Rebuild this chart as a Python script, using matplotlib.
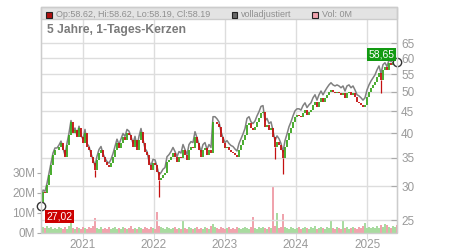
import matplotlib
matplotlib.use("Agg")
import matplotlib.pyplot as plt
import matplotlib.dates as mdates
from matplotlib.patches import Rectangle
from matplotlib.ticker import FixedLocator, FixedFormatter, NullLocator
import numpy as np
import pandas as pd

plt.rcParams['font.family'] = ['Liberation Sans', 'DejaVu Sans']

# ---------------- data (~every 10 days) ----------------
start_date = "2020-05-31"
end_date = "2025-06-03"

close = [
    27.0, 29.1, 28.9, 30.2, 31.9, 33.6, 35.5, 36.5, 36.5, 37.1,
    37.9, 36.5, 35.1, 37.5, 39.6, 42.4, 40.0, 40.7, 39.1, 41.1,
    39.1, 37.9, 40.0, 37.1, 36.5, 35.1, 34.0, 32.8, 34.6, 35.9,
    36.5, 35.1, 34.2, 33.6, 33.3, 34.0, 35.1, 36.5, 37.9, 36.9,
    37.9, 39.1, 38.5, 40.0, 39.6, 38.5, 37.1, 38.5, 36.5, 38.5,
    40.2, 37.9, 36.1, 35.5, 33.6, 32.8, 34.0, 33.6, 32.4, 31.0,
    31.4, 31.9, 32.2, 34.2, 34.6, 35.1, 35.9, 35.1, 34.2, 35.1,
    34.9, 36.5, 35.5, 34.6, 36.5, 37.1, 36.9, 39.1, 37.9, 36.5,
    35.1, 36.5, 36.9, 35.5, 36.5, 35.9, 42.4, 42.4, 41.9, 41.3,
    39.1, 37.9, 36.9, 37.1, 36.5, 36.1, 35.9, 35.5, 35.1, 36.5,
    37.5, 38.5, 39.6, 41.8, 42.2, 41.1, 40.7, 41.3, 42.4, 43.4,
    44.6, 44.8, 41.3, 41.8, 40.7, 41.1, 39.1, 37.1, 38.1, 37.5,
    36.5, 34.9, 37.1, 38.5, 40.0, 41.1, 42.4, 43.6, 44.1, 43.8,
    43.6, 44.6, 45.3, 44.1, 44.8, 45.3, 46.5, 47.3, 46.0, 47.3,
    48.3, 47.3, 48.3, 49.1, 49.9, 50.5, 49.9, 49.6, 49.9, 49.6,
    49.1, 49.6, 48.3, 49.6, 49.9, 49.1, 49.6, 48.6, 47.3, 47.0,
    46.5, 46.0, 46.5, 48.6, 49.9, 51.0, 51.8, 52.7, 54.1, 55.3,
    53.3, 56.2, 57.1, 56.2, 58.4, 57.8, 58.6, 58.6, 58.19,
]

adjusted = [
    27.3, 29.4, 29.2, 30.5, 32.2, 33.9, 35.9, 36.9, 36.9, 37.5,
    38.3, 36.9, 35.5, 37.9, 40.0, 42.8, 40.4, 41.1, 39.5, 41.5,
    39.5, 38.7, 40.8, 37.8, 37.2, 35.8, 34.7, 33.5, 35.3, 36.6,
    37.2, 35.8, 34.9, 34.3, 34.0, 34.7, 35.8, 37.2, 38.7, 37.6,
    38.7, 39.9, 39.3, 40.8, 40.4, 39.3, 37.8, 39.3, 37.2, 39.3,
    41.0, 38.7, 36.8, 36.2, 34.3, 33.5, 34.7, 34.6, 33.4, 31.9,
    32.3, 32.9, 33.2, 35.2, 35.6, 36.2, 37.0, 36.2, 35.2, 36.2,
    35.9, 37.6, 36.6, 35.6, 37.6, 38.2, 38.0, 40.3, 39.0, 37.6,
    36.2, 37.6, 38.0, 36.6, 37.6, 37.0, 43.7, 43.7, 43.2, 42.5,
    40.3, 39.0, 38.0, 38.4, 37.8, 37.4, 37.2, 36.7, 36.3, 37.8,
    38.8, 39.8, 41.0, 43.3, 43.7, 42.5, 42.1, 42.7, 43.9, 44.9,
    46.2, 46.4, 42.7, 43.3, 42.1, 42.5, 40.5, 38.4, 39.4, 38.8,
    37.8, 36.1, 38.4, 39.8, 41.4, 42.5, 43.9, 45.1, 45.6, 45.6,
    45.3, 46.4, 47.1, 45.9, 46.6, 47.1, 48.4, 49.2, 47.8, 49.2,
    50.2, 49.2, 50.2, 51.1, 51.9, 52.5, 51.9, 51.6, 51.9, 51.6,
    51.1, 51.6, 50.2, 51.6, 51.9, 51.1, 51.6, 50.5, 49.2, 48.9,
    48.4, 47.8, 48.4, 50.5, 51.9, 53.0, 53.9, 54.8, 56.3, 57.5,
    55.2, 57.9, 58.5, 57.3, 59.4, 58.8, 59.4, 59.2, 58.65,
]

volume_m = [
    4.0, 3.0, 2.5, 3.5, 2.5, 3.0, 2.0, 2.5, 2.0, 3.0,
    2.5, 2.0, 3.0, 2.0, 3.5, 7.5, 2.5, 2.0, 3.0, 2.5,
    2.0, 3.0, 2.5, 2.0, 3.0, 2.5, 3.5, 7.5, 2.5, 2.0,
    3.0, 2.0, 2.5, 2.0, 3.0, 2.0, 2.5, 3.0, 2.0, 2.5,
    2.0, 3.0, 2.5, 2.0, 2.5, 3.5, 2.0, 2.5, 2.0, 3.0,
    2.5, 2.0, 3.0, 2.5, 2.0, 3.0, 2.5, 2.0, 10.5, 3.5,
    3.0, 2.5, 2.0, 3.0, 2.5, 2.0, 2.5, 3.0, 2.0, 2.5,
    2.0, 6.5, 2.5, 2.0, 3.0, 2.5, 2.0, 2.5, 3.0, 2.0,
    2.5, 2.0, 3.0, 2.5, 2.0, 3.5, 4.5, 3.0, 2.5, 2.0,
    3.0, 2.5, 2.0, 2.5, 3.0, 2.0, 2.5, 2.0, 3.0, 2.5,
    2.0, 2.5, 3.0, 2.5, 2.0, 3.0, 8.0, 2.5, 2.0, 3.0,
    2.5, 3.0, 2.5, 2.0, 3.0, 2.5, 23.0, 3.5, 10.0, 2.5,
    3.0, 9.5, 3.0, 2.5, 2.0, 3.0, 2.5, 2.0, 2.5, 3.0,
    2.0, 2.5, 3.0, 2.5, 2.0, 3.0, 2.5, 3.5, 2.0, 2.5,
    3.0, 2.5, 2.0, 3.0, 2.5, 6.0, 2.5, 2.0, 3.0, 2.5,
    2.0, 6.0, 2.5, 3.0, 2.0, 2.5, 3.0, 2.5, 2.0, 3.0,
    2.5, 3.5, 5.0, 2.5, 3.0, 2.5, 3.0, 2.5, 3.5, 2.5,
    4.0, 3.0, 4.5, 4.0, 3.0, 2.5, 3.5, 3.0, 4.0,
]

# visible long lower wicks: index -> low price
wick_lows = {27: 31.6, 59: 28.3, 117: 34.7, 121: 32.1, 170: 49.6}

price_ticks = [25, 30, 35, 40, 45, 50, 55, 60, 65]
vol_ticks = [0, 10, 20, 30]
vol_tick_labels = ["0M", "10M", "20M", "30M"]
legend_ohlc = "Op:58.62, Hi:58.62, Lo:58.19, Cl:58.19"
legend_adj = "volladjustiert"
legend_vol = "Vol: 0M"
title = "5 Jahre, 1-Tages-Kerzen"
first_label = "27,02"
last_label = "58,65"

# ---------------- drawing ----------------
W, H = 450, 250
fig = plt.figure(figsize=(W / 100, H / 100), dpi=100)
L, R, T, B = 41, 397, 7, 232.5
ax_vol = fig.add_axes([L / W, 1 - B / H, (R - L) / W, (B - T) / H])
ax = ax_vol.twinx()

dates = pd.date_range(start_date, end_date, periods=len(close))
xd = mdates.date2num(dates.to_pydatetime())
opens = [close[0]] + close[:-1]
up = [c >= o for o, c in zip(opens, close)]

GREEN = "#3aa61e"
RED = "#c41010"
cols = [GREEN if u else RED for u in up]

# volume
vcols = ["#a8dba0" if u else "#f0a3ad" for u in up]
ax_vol.bar(xd, volume_m, width=7.0, color=vcols, linewidth=0, zorder=2)
ax_vol.set_ylim(0, 112.75)
ax_vol.set_xlim(xd[0], xd[-1])
ax_vol.yaxis.set_major_locator(FixedLocator(vol_ticks))
ax_vol.yaxis.set_major_formatter(FixedFormatter(vol_tick_labels))
ax_vol.tick_params(axis="y", colors="#aaaaaa", labelcolor="#9a9a9a", length=3,
                   labelsize=8.5, pad=1)
ax_vol.xaxis.set_major_locator(mdates.YearLocator())
ax_vol.xaxis.set_major_formatter(mdates.DateFormatter("%Y"))
ax_vol.tick_params(axis="x", colors="#dddddd", labelcolor="#9a9a9a", length=4,
                   labelsize=8.5, pad=1)
ax_vol.grid(axis="x", color="#dddddd", linewidth=1, zorder=0)
ax_vol.set_axisbelow(True)
for s in ["top", "bottom"]:
    ax_vol.spines[s].set_visible(False)
ax_vol.spines["left"].set_color("#bbbbbb")
ax_vol.spines["right"].set_visible(False)

# price
ax.set_yscale("log")
ax.set_ylim(23.37, 79.06)
ax.yaxis.set_major_locator(FixedLocator(price_ticks))
ax.yaxis.set_major_formatter(FixedFormatter([str(t) for t in price_ticks]))
ax.yaxis.set_minor_locator(NullLocator())
ax.tick_params(axis="y", direction="in", colors="#aaaaaa", labelcolor="#9a9a9a",
               length=4, labelsize=8.5, pad=3)
ax.grid(axis="y", color="#dddddd", linewidth=1)
ax.set_axisbelow(True)
for s in ["top", "bottom", "left"]:
    ax.spines[s].set_visible(False)
ax.spines["right"].set_color("#aaaaaa")

ax.plot(xd, adjusted, color="#808080", linewidth=1.1, zorder=2)
for i, lo in wick_lows.items():
    ax.vlines(xd[i], lo, min(opens[i], close[i]), colors=cols[i], linewidth=0.9, zorder=3)
ax.vlines(xd, opens, close, colors=cols, linewidth=1.3, zorder=3)

# end markers
ax.plot([xd[-1]], [adjusted[-1]], marker="o", markersize=6, markerfacecolor="white",
        markeredgecolor="#333333", markeredgewidth=1, clip_on=False, zorder=5)
ax.plot([xd[0]], [close[0]], marker="o", markersize=6, markerfacecolor="white",
        markeredgecolor="#333333", markeredgewidth=1, clip_on=False, zorder=5)
ax.annotate(last_label, (xd[-1], adjusted[-1]), xytext=(-2, 2), textcoords="offset points",
            ha="right", va="bottom", color="white", fontsize=7.5,
            bbox=dict(boxstyle="square,pad=0.15", fc="#129a12", ec="none"), zorder=6)
ax.annotate(first_label, (xd[0], close[0]), xytext=(4, -4), textcoords="offset points",
            ha="left", va="top", color="white", fontsize=7.5,
            bbox=dict(boxstyle="square,pad=0.15", fc="#cc0000", ec="none"), zorder=6)

# header band and frame
def fx(px):
    return px / W

def fy(py):
    return 1 - py / H

fig.patches.append(Rectangle((fx(L), fy(19)), (R - L) / W, 12 / H, transform=fig.transFigure,
                             facecolor="#e3e3e3", edgecolor="#cccccc", linewidth=1, zorder=3))
fig.patches.append(Rectangle((fx(L), fy(B)), (R - L) / W, (B - T) / H, transform=fig.transFigure,
                             facecolor="none", edgecolor="#cccccc", linewidth=1, zorder=3))

def legend_sq(x, color):
    fig.patches.append(Rectangle((fx(x), fy(17.5)), 5.5 / W, 5.5 / H, transform=fig.transFigure,
                                 facecolor=color, edgecolor="#222222", linewidth=0.8, zorder=4))

legend_sq(46, "#b01010")
fig.text(fx(56), fy(14.5), legend_ohlc, fontsize=6.5, color="#8f8f8f", va="center", ha="left", zorder=5)
legend_sq(231.5, "#666666")
fig.text(fx(241), fy(14.5), legend_adj, fontsize=6.5, color="#8f8f8f", va="center", ha="left", zorder=5)
legend_sq(312, "#f0a3ad")
fig.text(fx(322), fy(14.5), legend_vol, fontsize=6.5, color="#8f8f8f", va="center", ha="left", zorder=5)

fig.text(fx(47), fy(30), title, fontsize=8.7, fontweight="bold", color="#7a7a7a",
         va="center", ha="left", zorder=5)

fig.savefig("out.png", dpi=100)
